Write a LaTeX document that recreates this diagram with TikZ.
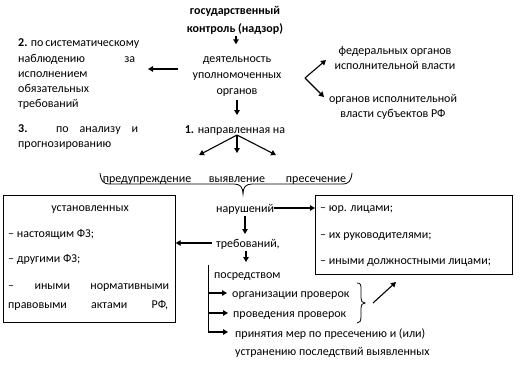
\documentclass[tikz,border=0pt]{standalone}
\usepackage{fontspec}
\setmainfont{Carlito}
\usetikzlibrary{arrows.meta}
\begin{document}
\begin{tikzpicture}[x=1pt,y=-1pt,
  txt/.style={inner sep=0pt, font=\fontsize{12}{15}\selectfont},
  lt/.style={txt, anchor=base west},
  arr/.style={line width=1.1pt,-{Triangle[length=5pt,width=5.5pt]}},
  box/.style={draw, line width=0.7pt, inner sep=0pt},
  brc/.style={line width=0.8pt}]
\useasboundingbox (0,0) rectangle (521,372);
% top
\node[txt, align=center, font=\fontsize{12}{18}\bfseries] (gk) at (235,20) {государственный\\контроль (надзор)};
\node[txt, align=center, font=\fontsize{12}{16}\selectfont] (dey) at (237,77) {деятельность\\уполномоченных\\органов};
\node[txt, anchor=base] (napr) at (235,133) {\textbf{1.} направленная на};
\draw[arr] (gk.south) ++(1,2) coordinate (g1) -- ++(0,8) coordinate (g2);
\draw[arr] (dey.south) ++(0,3) coordinate (d1) -- ++(0,15) coordinate (d2);
% item 2 and 3
\node[lt] (i2a) at (18,46) {\makebox[121pt][s]{\textbf{2.} по систематическому}};
\node[lt] (i2b) at (18,62) {\makebox[117pt][s]{наблюдению за}};
\node[lt] (i2c) at (18,77) {исполнением};
\node[lt] (i2d) at (18,92) {обязательных};
\node[lt] (i2e) at (18,107) {требований};
\node[lt] (i3a) at (18,132) {\makebox[120pt][s]{\textbf{3.} по анализу и}};
\node[lt] (i3b) at (18,147) {прогнозированию};
\coordinate (a2s) at (178,69);
\coordinate (a2e) at (148,69);
\draw[arr] (a2s) -- (a2e);
% right organs
\node[txt, align=center] (fed) at (395,58) {федеральных органов\\исполнительной власти};
\node[txt, align=center] (sub) at (393,107) {органов исполнительной\\власти субъектов РФ};
\coordinate (fork) at (305,78);
\coordinate (forkA) at (326,60);
\coordinate (forkB) at (324,97);
\draw[arr] (fork) -- (forkA);
\draw[arr] (fork) -- (forkB);
% three directions
\coordinate (n0) at (237,135);
\coordinate (nL) at (199,155);
\coordinate (nC) at (237,153);
\coordinate (nR) at (276,155);
\draw[arr] (n0) -- (nL);
\draw[arr] (n0) -- (nC);
\draw[arr] (n0) -- (nR);
\node[txt, anchor=base] (pred) at (147,182) {предупреждение};
\node[txt, anchor=base] (vyy) at (237,182) {выявление};
\node[txt, anchor=base] (pres) at (316,182) {пресечение};
% under-brace
\draw[brc] (100,173) .. controls (101,181) and (103,184) .. (110,184) -- (234,184)
  .. controls (240,184) and (243,187) .. (243,194)
  .. controls (243,187) and (246,184) .. (252,184) -- (342,184)
  .. controls (349,184) and (351,181) .. (352,173);
% boxes
\node[box, minimum width=172pt, minimum height=127pt, anchor=north west] (lbox) at (3,195) {};
\node[box, minimum width=197pt, minimum height=79pt, anchor=north west] (rbox) at (315,195) {};
\node[txt, anchor=base] (ust) at (90,211) {установленных};
\node[lt] (l1) at (8,237) {– настоящим ФЗ;};
\node[lt] (l2) at (8,262) {– другими ФЗ;};
\node[lt] (l3) at (8,289) {\makebox[161pt][s]{– иными нормативными}};
\node[lt] (l4) at (8,308) {\makebox[160pt][s]{правовыми актами РФ,}};
\node[lt] (r1) at (320,211) {– юр. лицами;};
\node[lt] (r2) at (320,238) {– их руководителями;};
\node[lt] (r3) at (320,264) {– иными должностными лицами;};
% centre column
\node[lt] (nar) at (216,212) {нарушений};
\node[lt] (treb) at (216,247) {требований,};
\node[lt] (posr) at (214,278) {посредством};
\coordinate (nb1) at (245,216);
\coordinate (nb2) at (245,234);
\draw[arr] (nb1) -- (nb2);
\coordinate (nr) at (274,208);
\draw[arr] (nr) -- (rbox.west |- nr);
\coordinate (t1) at (212,243);
\draw[arr] (t1) -- (lbox.east |- t1);
\coordinate (tb1) at (246,251);
\coordinate (tb2) at (246,262);
\draw[arr] (tb1) -- (tb2);
\node[lt] (org) at (232,297) {организации проверок};
\node[lt] (prov) at (233,317) {проведения проверок};
\node[txt, anchor=west, align=left, font=\fontsize{12}{18}\selectfont] (prin) at (235,343) {принятия мер по пресечению и (или)\\устранению последствий выявленных};
\coordinate (vt) at (208,265);
\coordinate (vb) at (208,332);
\coordinate (yo) at (0,293);
\coordinate (yp) at (0,313);
\draw[line width=0.7pt] (vt) -- (vb);
\draw[arr] (vt |- yo) -- ([xshift=-5pt]org.west |- yo);
\draw[arr] (vt |- yp) -- ([xshift=-5pt]prov.west |- yp);
\draw[arr] (vb) -- ([xshift=-7pt]vb -| prin.west);
% right brace
\draw[brc] (357,283) .. controls (361,283) and (361,285) .. (361,290) -- (361,298)
  .. controls (361,301) and (362,303) .. (365,303)
  .. controls (362,303) and (361,305) .. (361,308) -- (361,316)
  .. controls (361,321) and (360,323) .. (357,323);
\coordinate (ra1) at (373,303);
\coordinate (ra2) at (396,282);
\draw[arr] (ra1) -- (ra2);
\end{tikzpicture}
\end{document}
